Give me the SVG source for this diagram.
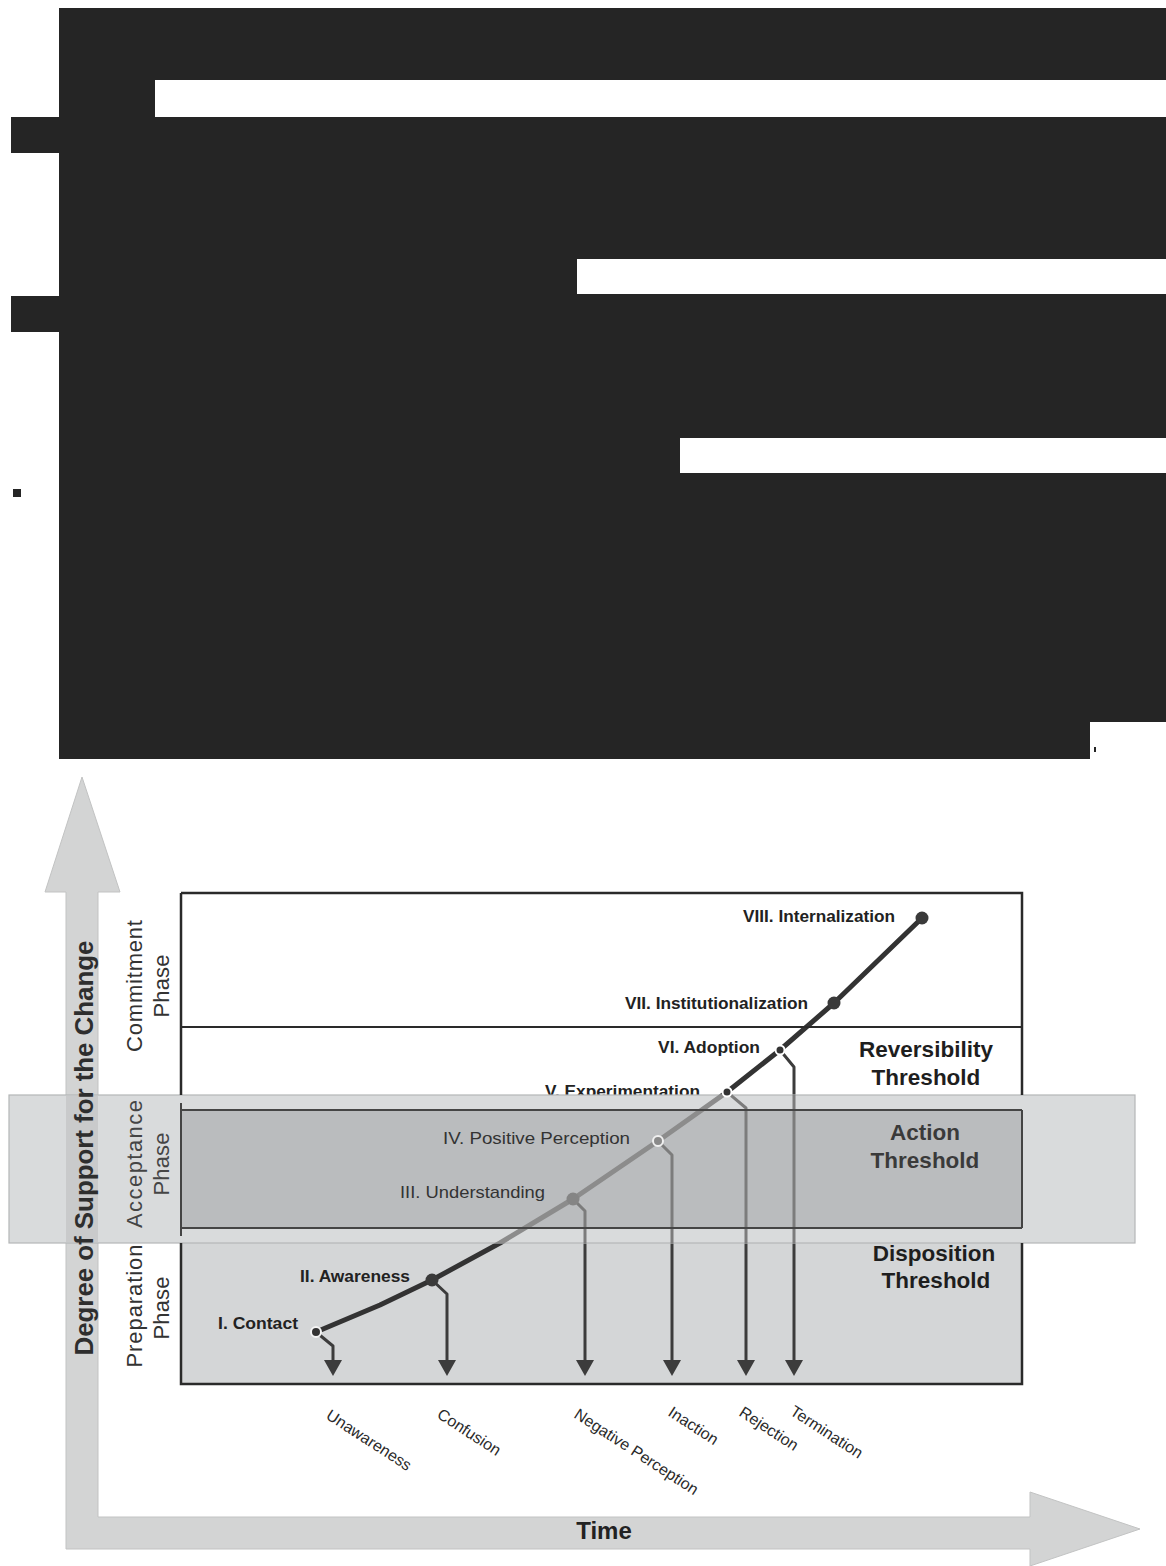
<svg xmlns="http://www.w3.org/2000/svg" width="1166" height="1566" viewBox="0 0 1166 1566">
<style>
.blk{fill:#252525}
.lbl{font-family:"Liberation Sans",Arial,sans-serif;font-size:17px;font-weight:bold;fill:#222}
.lblr{font-family:"Liberation Sans",Arial,sans-serif;font-size:17px;fill:#333}
.thr{font-family:"Liberation Sans",Arial,sans-serif;font-size:22.5px;font-weight:bold;fill:#1e1e1e;text-anchor:middle}
.ph{font-family:"Liberation Sans",Arial,sans-serif;font-size:22px;fill:#333;text-anchor:middle}
.out{font-family:"Liberation Sans",Arial,sans-serif;font-size:16px;fill:#2a2a2a}
.drop{fill:none;stroke:#3c3c3c;stroke-width:3;stroke-linejoin:round}
.dropg{fill:none;stroke:#7c7c7c;stroke-width:3;stroke-linejoin:round}
.head{fill:#3c3c3c}
</style>
<defs>
<clipPath id="bandclip"><rect x="9" y="1095" width="1126" height="148"/></clipPath>
</defs>
<rect width="1166" height="1566" fill="#ffffff"/>

<g id="redacted">
<path class="blk" d="M59,8 H1166 V722 H1090 V759 H59 Z"/>
<rect class="blk" x="11" y="117" width="50" height="36"/>
<rect class="blk" x="11" y="296" width="50" height="36"/>
<rect class="blk" x="13" y="489" width="8" height="8"/>
<rect class="blk" x="1094" y="747" width="2" height="5"/>
<rect x="155" y="80" width="1011" height="37" fill="#ffffff"/>
<rect x="577" y="259" width="589" height="35" fill="#ffffff"/>
<rect x="680" y="438" width="486" height="35" fill="#ffffff"/>
</g>

<g id="axes">
<polygon points="82,777 120,892 98,892 98,1517 1030,1517 1030,1492 1140,1529 1030,1566 1030,1549 66,1549 66,892 45,892" fill="#d3d4d4" stroke="#c2c3c3" stroke-width="1"/>
</g>

<g id="chart-box">
<rect x="181" y="893" width="841" height="217" fill="#ffffff"/>
<rect x="181" y="1228" width="841" height="156" fill="#d4d6d7"/>
</g>

<g id="connectors">
<polyline id="curve-dark" points="316,1332 380,1305 432,1280 500,1243 573,1199 658,1141 727,1092 780,1050 834,1003 922,918" fill="none" stroke="#333" stroke-width="5" stroke-linejoin="round" stroke-linecap="round"/>
<path class="drop" d="M316,1332 L333,1346 V1362"/>
<path class="drop" d="M432,1280 L447,1294 V1362"/>
<path class="drop" d="M573,1199 L585,1211 V1362"/>
<path class="drop" d="M658,1141 L672,1155 V1362"/>
<path class="drop" d="M727,1092 L746,1108 V1362"/>
<path class="drop" d="M780,1050 L794,1067 V1362"/>
<polygon class="head" points="324,1360 342,1360 333,1376"/>
<polygon class="head" points="438,1360 456,1360 447,1376"/>
<polygon class="head" points="576,1360 594,1360 585,1376"/>
<polygon class="head" points="663,1360 681,1360 672,1376"/>
<polygon class="head" points="737,1360 755,1360 746,1376"/>
<polygon class="head" points="785,1360 803,1360 794,1376"/>
</g>

<g id="node-v">
<text class="lbl" x="545" y="1097" textLength="155" lengthAdjust="spacingAndGlyphs">V. Experimentation</text>
</g>

<g id="band">
<rect x="9" y="1095" width="1126" height="148" fill="#d9dbdc" stroke="#b4b6b7" stroke-width="1.2"/>
<rect x="66" y="1096" width="32" height="146" fill="#c9cacb"/>
<rect x="181" y="1110" width="841" height="118" fill="#babcbe"/>
<g clip-path="url(#bandclip)">
<polyline points="316,1332 380,1305 432,1280 500,1243 573,1199 658,1141 727,1092 780,1050 834,1003 922,918" fill="none" stroke="#8c8c8c" stroke-width="5" stroke-linejoin="round"/>
<path class="dropg" d="M573,1199 L585,1211 V1362"/>
<path class="dropg" d="M658,1141 L672,1155 V1362"/>
<path class="dropg" d="M727,1092 L746,1108 V1362"/>
<path class="dropg" d="M780,1050 L794,1067 V1362"/>
</g>
</g>

<g id="box-lines" stroke="#2a2a2a" fill="none">
<path d="M181,893 H1022 V1095 M181,893 V1095 M181,1243 V1384 H1022 V1243" stroke-width="2.5"/>
<path d="M181,1103 V1236 M1022,1110 V1228" stroke="#444" stroke-width="2"/>
<line x1="181" y1="1027" x2="1022" y2="1027" stroke-width="2"/>
<line x1="181" y1="1110" x2="1022" y2="1110" stroke="#454545" stroke-width="2"/>
<line x1="181" y1="1228" x2="1022" y2="1228" stroke="#454545" stroke-width="2"/>
</g>

<g id="node-i">
<circle cx="316" cy="1332" r="5" fill="#333" stroke="#f4f4f4" stroke-width="2"/>
<text class="lbl" x="218" y="1329" textLength="80" lengthAdjust="spacingAndGlyphs">I. Contact</text>
</g>
<g id="node-ii">
<circle cx="432" cy="1280" r="6.5" fill="#3a3a3a"/>
<text class="lbl" x="300" y="1282" textLength="110" lengthAdjust="spacingAndGlyphs">II. Awareness</text>
</g>
<g id="node-iii">
<circle cx="573" cy="1199" r="6.5" fill="#858585"/>
<text class="lblr" x="400" y="1198" textLength="145" lengthAdjust="spacingAndGlyphs">III. Understanding</text>
</g>
<g id="node-iv">
<circle cx="658" cy="1141" r="5" fill="#8a8a8a" stroke="#f0f0f0" stroke-width="2"/>
<text class="lblr" x="443" y="1144" textLength="187" lengthAdjust="spacingAndGlyphs">IV. Positive Perception</text>
</g>
<g id="node-v-dot">
<circle cx="727" cy="1092" r="4.5" fill="#333" stroke="#ffffff" stroke-width="2"/>
</g>
<g id="node-vi">
<circle cx="780" cy="1050" r="4.5" fill="#333" stroke="#ffffff" stroke-width="2"/>
<text class="lbl" x="658" y="1053" textLength="102" lengthAdjust="spacingAndGlyphs">VI. Adoption</text>
</g>
<g id="node-vii">
<circle cx="834" cy="1003" r="6.5" fill="#3a3a3a"/>
<text class="lbl" x="625" y="1009" textLength="183" lengthAdjust="spacingAndGlyphs">VII. Institutionalization</text>
</g>
<g id="node-viii">
<circle cx="922" cy="918" r="6.5" fill="#3a3a3a"/>
<text class="lbl" x="743" y="922" textLength="152" lengthAdjust="spacingAndGlyphs">VIII. Internalization</text>
</g>

<g id="thresholds">
<text class="thr" x="926" y="1057">Reversibility</text>
<text class="thr" x="926" y="1085">Threshold</text>
<text class="thr" x="925" y="1140" fill="#3a3a3a" style="fill:#3a3a3a">Action</text>
<text class="thr" x="925" y="1168" style="fill:#3a3a3a">Threshold</text>
<text class="thr" x="934" y="1261">Disposition</text>
<text class="thr" x="936" y="1288">Threshold</text>
</g>

<g id="phases" transform="rotate(-90)">
<text class="ph" x="-986" y="142" textLength="132" lengthAdjust="spacing">Commitment</text>
<text class="ph" x="-986" y="169" textLength="63" lengthAdjust="spacing">Phase</text>
<text class="ph" x="-1164" y="142" textLength="128" lengthAdjust="spacing" style="fill:#454545">Acceptance</text>
<text class="ph" x="-1164" y="169" textLength="63" lengthAdjust="spacing" style="fill:#454545">Phase</text>
<text class="ph" x="-1306" y="142" textLength="123" lengthAdjust="spacing">Preparation</text>
<text class="ph" x="-1308" y="169" textLength="63" lengthAdjust="spacing">Phase</text>
<text x="-1148" y="93" text-anchor="middle" font-family="Liberation Sans, Arial, sans-serif" font-size="26" font-weight="bold" fill="#2e2e2e" textLength="415" lengthAdjust="spacing">Degree of Support for the Change</text>
</g>

<g id="outcomes">
<text class="out" transform="translate(325,1418) rotate(33)">Unawareness</text>
<text class="out" transform="translate(436,1417) rotate(33)">Confusion</text>
<text class="out" transform="translate(573,1417) rotate(33)">Negative Perception</text>
<text class="out" transform="translate(667,1415) rotate(33)">Inaction</text>
<text class="out" transform="translate(738,1415) rotate(33)">Rejection</text>
<text class="out" transform="translate(789,1414) rotate(33)">Termination</text>
</g>

<g id="time-label">
<text x="604" y="1539" text-anchor="middle" font-family="Liberation Sans, Arial, sans-serif" font-size="24" font-weight="bold" fill="#222">Time</text>
</g>
</svg>
